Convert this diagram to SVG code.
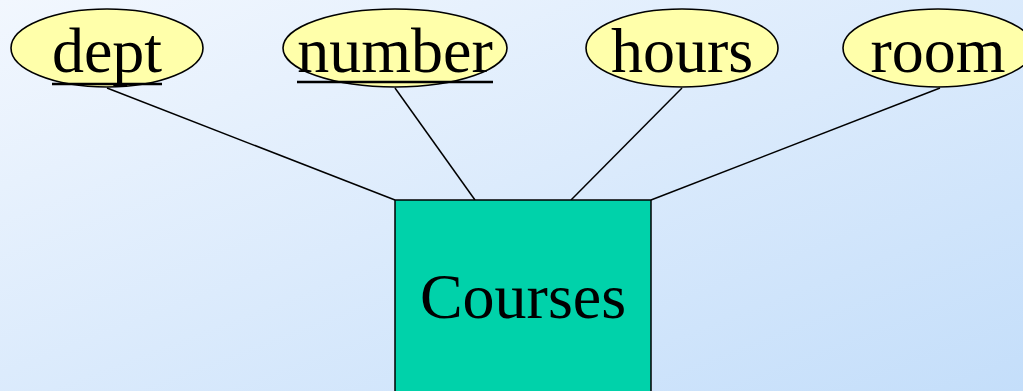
<svg xmlns="http://www.w3.org/2000/svg" width="1023" height="391" viewBox="0 0 1023 391">
<defs>
<linearGradient id="bg" x1="0" y1="0" x2="1" y2="1">
<stop offset="0" stop-color="#F2F7FE"/>
<stop offset="1" stop-color="#C4DEFA"/>
</linearGradient>
</defs>
<style>
.attr{fill:#FFFFAA;stroke:#000;stroke-width:1.6}
.lbl{font-family:"Liberation Serif","Times New Roman",serif;font-size:64px;fill:#000;text-anchor:middle}
.ul{stroke:#000;stroke-width:2.5}
.edge{stroke:#000;stroke-width:1.5;fill:none}
</style>
<rect width="1023" height="391" fill="url(#bg)"/>
<g id="connectors">
<line class="edge" x1="107" y1="88" x2="395" y2="200"/>
<line class="edge" x1="395" y1="88" x2="475" y2="200"/>
<line class="edge" x1="682" y1="88" x2="571" y2="200"/>
<line class="edge" x1="940" y1="88" x2="651" y2="200"/>
</g>
<g id="dept">
<ellipse class="attr" cx="107" cy="48" rx="96" ry="39"/>
<text class="lbl" x="107" y="72">dept</text>
<line class="ul" x1="52" y1="84" x2="162" y2="84"/>
</g>
<g id="number">
<ellipse class="attr" cx="395" cy="48" rx="112" ry="39"/>
<text class="lbl" x="395" y="72">number</text>
<line class="ul" x1="297" y1="82" x2="493" y2="82"/>
</g>
<g id="hours">
<ellipse class="attr" cx="682" cy="48" rx="96" ry="39"/>
<text class="lbl" x="682" y="72">hours</text>
</g>
<g id="room">
<ellipse class="attr" cx="938" cy="48" rx="95" ry="39"/>
<text class="lbl" x="938" y="72">room</text>
</g>
<g id="courses">
<rect x="395" y="200" width="256" height="200" fill="#00D2AA" stroke="#000" stroke-width="1.5"/>
<text class="lbl" x="523" y="318" style="font-size:64px">Courses</text>
</g>
</svg>
